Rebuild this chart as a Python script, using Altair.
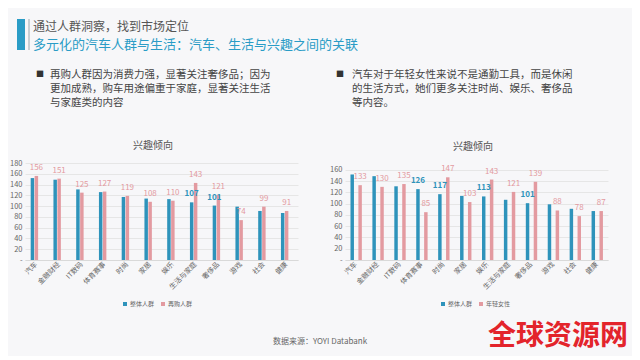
import altair as alt
import pandas as pd

# ---------------- data ----------------
categories = ["汽车", "金融财经", "IT数码", "体育赛事", "时尚", "家居",
              "娱乐", "生活与家庭", "奢侈品", "游戏", "社会", "健康"]
overall = [152, 149, 131, 126, 117, 114, 113, 107, 101, 99, 91, 87]
repurchase = [156, 151, 125, 127, 119, 108, 110, 143, 121, 74, 99, 91]
young_female = [133, 130, 135, 85, 147, 103, 143, 121, 139, 88, 78, 87]
left_blue_label_cats = ["生活与家庭", "奢侈品"]
right_blue_label_cats = ["体育赛事", "时尚", "娱乐", "奢侈品"]
left_y_ticks = [0, 20, 40, 60, 80, 100, 120, 140, 160, 180]
right_y_ticks = [0, 20, 40, 60, 80, 100, 120, 140, 160]

base_name = "整体人群"
left_name = "再购人群"
right_name = "年轻女性"

header_lines = ["通过人群洞察，找到市场定位",
                "多元化的汽车人群与生活：汽车、生活与兴趣之间的关联"]
left_note = ["再购人群因为消费力强，显著关注奢侈品；因为",
             "更加成熟，购车用途偏重于家庭，显著关注生活",
             "与家庭类的内容"]
right_note = ["汽车对于年轻女性来说不是通勤工具，而是休闲",
              "的生活方式，她们更多关注时尚、娱乐、奢侈品",
              "等内容。"]
chart_title = "兴趣倾向"
source_text = "数据来源：YOYI Databank"
watermark = "全球资源网"

# ---------------- style ----------------
BLUE = "#2e93bb"
PINK = "#e39aa0"
BG = "#f7f7f9"
FONT = "Noto Sans CJK SC"
HEAD_BLUE = "#2a9cc6"


def one_row():
    return alt.Chart(pd.DataFrame({"k": [0]}))


def text_at(txt, x, y, **kw):
    return (alt.Chart(pd.DataFrame({"t": [txt]}))
            .mark_text(font=FONT, lineBreak="\n", **kw)
            .encode(text="t:N", x=alt.value(x), y=alt.value(y)))


def panel(name, values, blue_cats, ymax, ticks, legend_x):
    n = len(categories)
    df = pd.DataFrame({
        "cat": categories + categories,
        "group": [base_name] * n + [name] * n,
        "value": overall + values,
        "show": [c in blue_cats for c in categories] + [True] * n,
    })
    groups = [base_name, name]
    x = alt.X("cat:N", sort=categories, title=None,
              scale=alt.Scale(paddingInner=0.5, paddingOuter=0.25),
              axis=alt.Axis(labelAngle=315, labelAlign="right",
                            labelBaseline="middle", labelFontSize=7,
                            labelColor="#666666", ticks=False,
                            domainColor="#d9d9d9", labelPadding=3,
                            grid=False, labelFont=FONT))
    xo = alt.XOffset("group:N", sort=groups,
                     scale=alt.Scale(paddingInner=0.12, paddingOuter=0))
    y = alt.Y("value:Q", title=None,
              scale=alt.Scale(domain=[0, ymax], nice=False),
              axis=alt.Axis(values=ticks,
                            labelExpr="datum.value == 0 ? '-' : datum.label",
                            grid=True, gridColor="#e6e6e6", domain=False,
                            ticks=False, labelFontSize=7.5,
                            labelColor="#666666", labelPadding=3,
                            labelFont=FONT))
    color = alt.Color("group:N", sort=groups,
                      scale=alt.Scale(domain=groups, range=[BLUE, PINK]),
                      legend=alt.Legend(orient="none", legendX=legend_x,
                                        legendY=138, direction="horizontal",
                                        title=None, symbolType="square",
                                        symbolSize=16, labelFontSize=6,
                                        labelColor="#666666",
                                        columnPadding=5, labelOffset=2,
                                        labelFont=FONT,
                                        symbolStrokeWidth=0))
    bars = alt.Chart(df).mark_bar().encode(x=x, xOffset=xo, y=y, color=color)
    pink_labels = (alt.Chart(df)
                   .transform_filter(alt.datum.group == name)
                   .mark_text(dy=-8, fontSize=8, color=PINK, font=FONT)
                   .encode(x=x, xOffset=xo, y=y, text="value:Q"))
    blue_labels = (alt.Chart(df)
                   .transform_filter((alt.datum.group == base_name) & alt.datum.show)
                   .mark_text(dy=-8, fontSize=8, color=BLUE, fontWeight="bold", font=FONT)
                   .encode(x=x, xOffset=xo, y=y, text="value:Q"))
    return bars, pink_labels, blue_labels


LW, LH = 273, 97
RW, RH = 263, 97

lb, lp, lbl = panel(left_name, repurchase, left_blue_label_cats, 180,
                    left_y_ticks, 97)
rb, rp, rbl = panel(right_name, young_female, right_blue_label_cats, 172.4,
                    right_y_ticks, 95)

# invisible page anchor (spans the page area, fixes the origin)
bg = one_row().mark_rect(fillOpacity=0, strokeOpacity=0).encode(
    x=alt.value(-17), x2=alt.value(607), y=alt.value(-155), y2=alt.value(193))
head_bar = one_row().mark_rect(color=HEAD_BLUE).encode(
    x=alt.value(-8), x2=alt.value(0), y=alt.value(-144), y2=alt.value(-113))
head_rule = one_row().mark_rule(color="#9aa7ad", strokeWidth=1).encode(
    x=alt.value(4), y=alt.value(-144), y2=alt.value(-113))
head1 = text_at(header_lines[0], 8, -136, fontSize=12, color="#555555",
                align="left", baseline="middle")
head2 = text_at(header_lines[1], 8, -118, fontSize=13, color=HEAD_BLUE,
                align="left", baseline="middle")
lbullet = text_at("■", 15, -88, fontSize=8, color="#333333",
                  align="center", baseline="middle")
lnote = text_at("\n".join(left_note), 25, -88, fontSize=10.5, color="#444444",
                align="left", baseline="middle", lineHeight=14)
ltitle = text_at(chart_title, 128, -17, fontSize=10, color="#555555",
                 align="center", baseline="middle")
src = text_at(source_text, 295, 179, fontSize=8, color="#666666",
              align="center", baseline="middle")

rbullet = text_at("■", -5, -88, fontSize=8, color="#333333",
                  align="center", baseline="middle")
rnote = text_at("\n".join(right_note), 7, -88, fontSize=10.5, color="#444444",
                align="left", baseline="middle", lineHeight=14)
rtitle = text_at(chart_title, 128, -16, fontSize=10, color="#555555",
                 align="center", baseline="middle")
wm = text_at(watermark, 213, 174, fontSize=28, color="#e3242b",
             fontWeight="bold", align="center", baseline="middle")

left = alt.layer(bg, head_bar, head_rule, head1, head2, lbullet, lnote,
                 ltitle, lb, lp, lbl, src).properties(width=LW, height=LH)
right = alt.layer(rbullet, rnote, rtitle, rb, rp, rbl, wm).properties(
    width=RW, height=RH)

chart = (alt.hconcat(left, right, spacing=47, bounds="flush")
         .resolve_scale(color="independent", x="independent", y="independent")
         .resolve_legend(color="independent")
         .properties(padding=0)
         .configure(font=FONT, background=BG)
         .configure_view(strokeWidth=0))

chart.save("out.html", embed_options={"renderer": "svg", "actions": False})
